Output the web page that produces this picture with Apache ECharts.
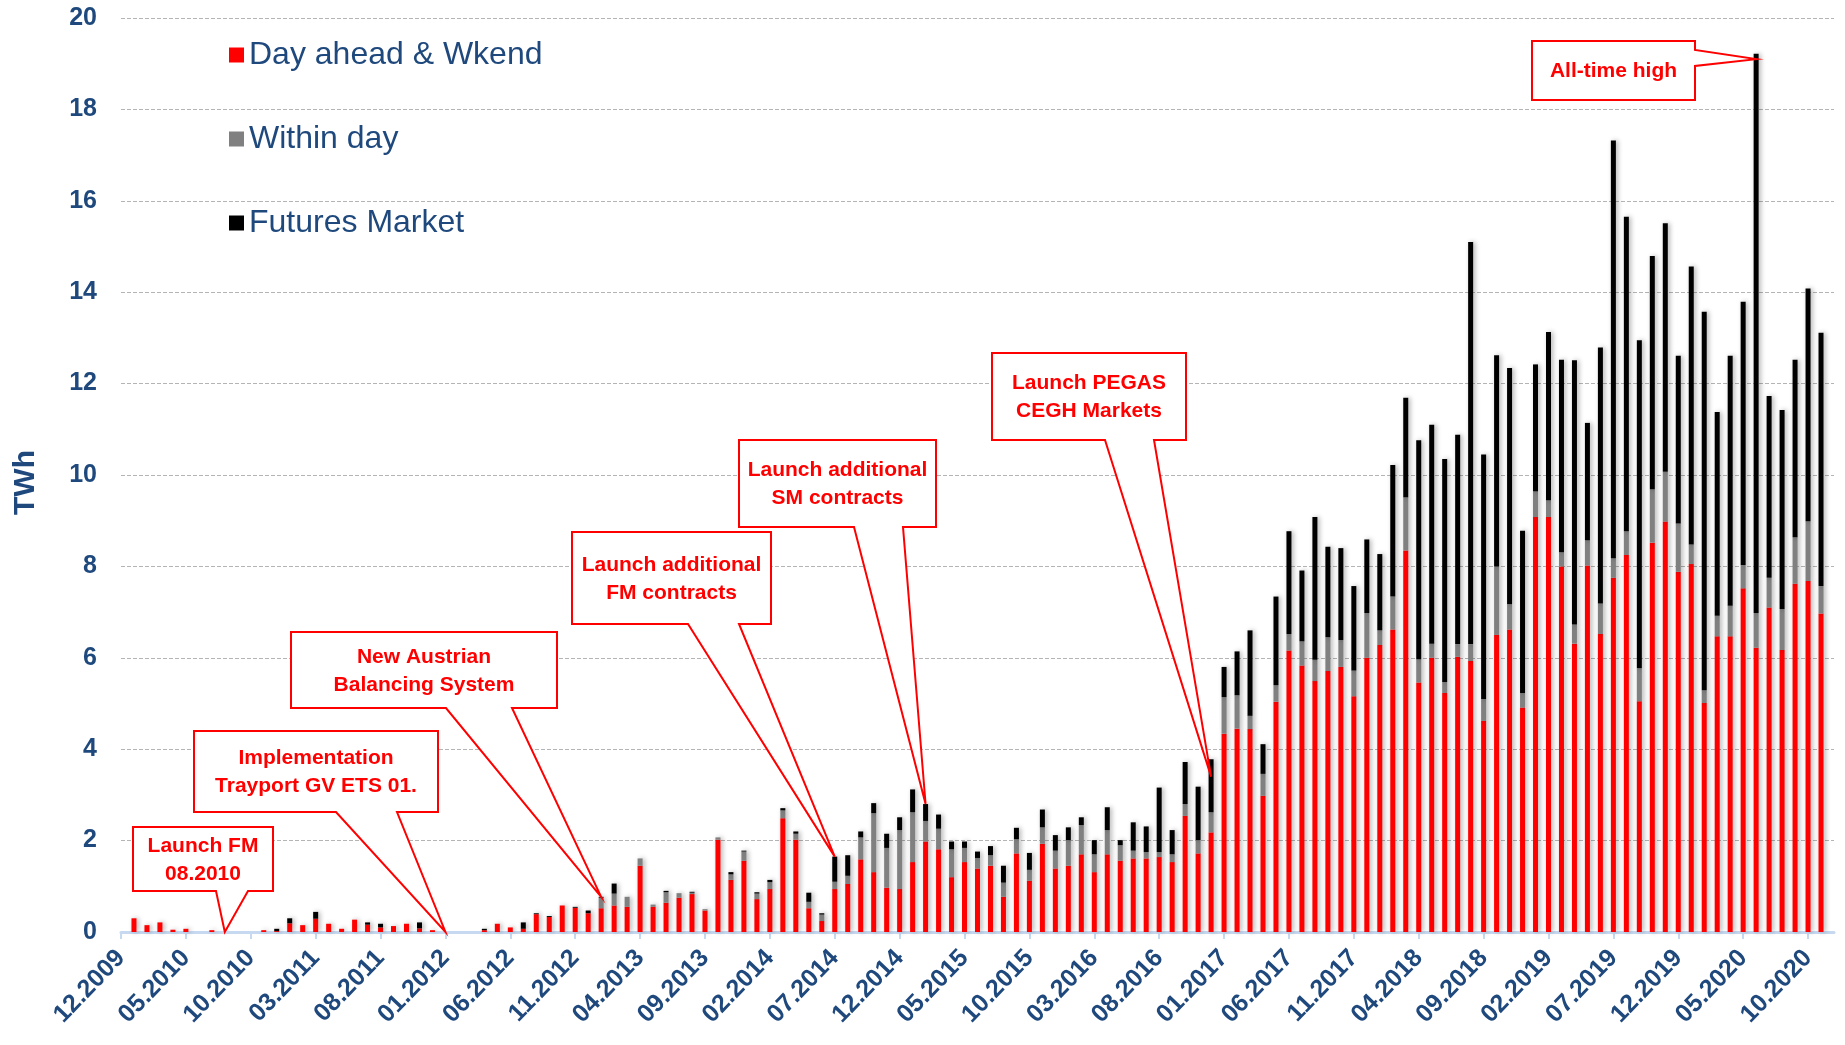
<!DOCTYPE html>
<html>
<head>
<meta charset="utf-8">
<script src="https://cdn.jsdelivr.net/npm/echarts@6/dist/echarts.min.js"></script>
<style>
  html, body { margin: 0; padding: 0; background: #fff; }
  #chart { width: 1845px; height: 1045px; }
</style>
</head>
<body>
<div id="chart"></div>
<script>
// months 12.2009 .. 12.2020
const startYear = 2009, startMonth = 12, monthCount = 133;
const months = [];
for (let i = 0; i < monthCount; i++) {
  const m = (startMonth - 1 + i) % 12 + 1;
  const y = startYear + Math.floor((startMonth - 1 + i) / 12);
  months.push((m < 10 ? '0' + m : '' + m) + '.' + y);
}

const yTicks = [0, 2, 4, 6, 8, 10, 12, 14, 16, 18, 20];

// TWh per month
const dayAhead = [
  0, 0.30, 0.15, 0.21, 0.05, 0.07, 0, 0.04, 0, 0,
  0, 0.04, 0.02, 0.19, 0.15, 0.29, 0.18, 0.07, 0.27, 0.16,
  0.10, 0.13, 0.18, 0.08, 0.04, 0, 0, 0, 0.04, 0.18,
  0.10, 0.07, 0.39, 0.33, 0.58, 0.53, 0.41, 0.52, 0.58, 0.55,
  1.45, 0.55, 0.64, 0.75, 0.83, 0.47, 2.02, 1.14, 1.56, 0.72,
  0.94, 2.49, 2.02, 0.52, 0.24, 0.94, 1.05, 1.59, 1.31, 0.97,
  0.94, 1.53, 1.98, 1.81, 1.20, 1.53, 1.39, 1.45, 0.77, 1.72,
  1.12, 1.93, 1.39, 1.45, 1.70, 1.31, 1.70, 1.56, 1.61, 1.61,
  1.64, 1.53, 2.54, 1.72, 2.18, 4.34, 4.45, 4.44, 2.98, 5.04,
  6.16, 5.83, 5.49, 5.71, 5.80, 5.16, 6.00, 6.28, 6.62, 8.35,
  5.46, 6.00, 5.23, 6.02, 5.93, 4.62, 6.50, 6.62, 4.91, 9.08,
  9.08, 8.00, 6.31, 8.02, 6.52, 7.75, 8.25, 5.05, 8.52, 8.98,
  7.88, 8.05, 5.01, 6.47, 6.47, 7.52, 6.22, 7.10, 6.17, 7.62,
  7.68, 6.97, 0
];
const withinDay = [
  0, 0, 0, 0, 0, 0, 0, 0, 0, 0,
  0, 0, 0, 0, 0, 0, 0, 0, 0, 0,
  0, 0, 0, 0, 0, 0, 0, 0, 0, 0,
  0, 0, 0, 0, 0, 0, 0, 0.23, 0.26, 0.22,
  0.16, 0.05, 0.23, 0.10, 0.03, 0.03, 0.05, 0.12, 0.20, 0.12,
  0.15, 0.17, 0.13, 0.14, 0.14, 0.16, 0.18, 0.48, 1.29, 0.87,
  1.29, 1.09, 0.45, 0.45, 0.61, 0.31, 0.23, 0.23, 0.31, 0.31,
  0.24, 0.36, 0.39, 0.56, 0.64, 0.39, 0.53, 0.34, 0.17, 0.14,
  0.11, 0.17, 0.26, 0.29, 0.44, 0.80, 0.73, 0.29, 0.48, 0.36,
  0.36, 0.53, 0.47, 0.74, 0.59, 0.56, 0.98, 0.32, 0.72, 1.16,
  0.51, 0.31, 0.24, 0.28, 0.37, 0.48, 1.50, 0.55, 0.32, 0.56,
  0.37, 0.31, 0.42, 0.55, 0.67, 0.43, 0.52, 0.72, 1.17, 1.09,
  1.06, 0.43, 0.28, 0.45, 0.67, 0.51, 0.76, 0.65, 0.90, 1.02,
  1.31, 0.60, 0
];
const futures = [
  0, 0, 0, 0, 0, 0, 0, 0, 0, 0,
  0, 0, 0.05, 0.11, 0, 0.15, 0, 0, 0, 0.05,
  0.08, 0, 0, 0.13, 0, 0, 0, 0, 0.03, 0,
  0, 0.14, 0.02, 0.02, 0, 0.02, 0.06, 0.02, 0.22, 0,
  0, 0, 0.03, 0, 0.02, 0, 0, 0.05, 0.02, 0.03,
  0.05, 0.05, 0.05, 0.20, 0.03, 0.55, 0.45, 0.13, 0.22, 0.31,
  0.28, 0.50, 0.37, 0.31, 0.17, 0.14, 0.14, 0.20, 0.37, 0.25,
  0.37, 0.39, 0.34, 0.28, 0.17, 0.31, 0.50, 0.11, 0.62, 0.56,
  1.41, 0.53, 0.92, 1.17, 1.16, 0.66, 0.96, 1.87, 0.65, 1.94,
  2.25, 1.55, 3.12, 1.98, 2.01, 1.85, 1.61, 1.67, 2.88, 2.18,
  4.79, 4.79, 4.88, 4.58, 8.80, 5.35, 4.62, 5.17, 3.55, 2.78,
  3.68, 4.21, 5.78, 2.57, 5.60, 9.14, 6.88, 7.18, 5.10, 5.44,
  3.67, 6.08, 8.28, 4.46, 5.47, 5.76, 12.24, 3.98, 4.35, 3.88,
  5.09, 5.54, 0
];

// callouts: text, box [x0,y0,x1,y1], tail base, target month + value
const callouts = [
  { text: 'Launch FM\n08.2010', box: [133, 827, 273, 891], side: 'bottom', base: [216, 248], month: '08.2010', value: 0 },
  { text: 'Implementation\nTrayport GV ETS 01.', box: [194, 731, 438, 812], side: 'bottom', base: [336, 397], month: '01.2012', value: 0 },
  { text: 'New Austrian\nBalancing System', box: [291, 632, 557, 708], side: 'bottom', base: [446, 512], month: '01.2013', value: 0.77 },
  { text: 'Launch additional\nFM contracts', box: [572, 532, 771, 624], side: 'bottom', base: [688, 739], month: '07.2014', value: 1.65 },
  { text: 'Launch additional\nSM contracts', box: [739, 440, 936, 527], side: 'bottom', base: [854, 903], month: '02.2015', value: 2.8 },
  { text: 'Launch PEGAS\nCEGH Markets', box: [992, 353, 1186, 440], side: 'bottom', base: [1105, 1154], month: '12.2016', value: 3.4 },
  { text: 'All-time high', box: [1532, 41, 1695, 100], side: 'right', base: [50, 66], month: '06.2020', value: 19.1 }
];

const textBlue = '#1F497D';
const fontArial = '"Liberation Sans", Arial, sans-serif';
const chart = echarts.init(document.getElementById('chart'));

const barStyle = function (color) {
  return {
    color: color,
    shadowColor: 'rgba(0, 0, 0, 0.3)',
    shadowBlur: 5,
    shadowOffsetX: 2
  };
};

const option = {
  animation: false,
  backgroundColor: '#fff',
  grid: { left: 121, right: 11, top: 18, bottom: 113 },
  legend: {
    orient: 'vertical',
    left: 224,
    top: 30,
    itemWidth: 15,
    itemHeight: 15,
    itemGap: 44,
    icon: 'rect',
    textStyle: {
      fontFamily: fontArial,
      fontSize: 32,
      color: textBlue,
      lineHeight: 40
    },
    data: ['Day ahead & Wkend', 'Within day', 'Futures Market']
  },
  xAxis: {
    type: 'category',
    data: months,
    boundaryGap: false,
    axisLine: { lineStyle: { color: '#C6D9F1', width: 3 } },
    axisTick: { interval: 4, length: 7, lineStyle: { color: '#C6D9F1', width: 2 } },
    axisLabel: {
      interval: 4,
      rotate: 46,
      margin: 22,
      fontFamily: fontArial,
      fontWeight: 'bold',
      fontSize: 25,
      color: textBlue
    },
    splitLine: { show: false }
  },
  yAxis: {
    type: 'value',
    min: yTicks[0],
    max: yTicks[yTicks.length - 1],
    interval: 2,
    name: 'TWh',
    nameLocation: 'middle',
    nameGap: 80,
    nameTextStyle: {
      fontFamily: fontArial,
      fontWeight: 'bold',
      fontSize: 30,
      color: textBlue,
      padding: [0, 15, 0, 0]
    },
    axisLine: { show: false },
    axisTick: { show: false },
    axisLabel: {
      margin: 24,
      fontFamily: fontArial,
      fontWeight: 'bold',
      fontSize: 25,
      color: textBlue
    },
    splitLine: { lineStyle: { color: '#B4B4B4', type: [4, 2], width: 1 } }
  },
  series: [
    { name: 'Day ahead & Wkend', type: 'bar', stack: 'total', barWidth: 5, data: dayAhead, itemStyle: barStyle('#FF0000') },
    { name: 'Within day', type: 'bar', stack: 'total', barWidth: 5, data: withinDay, itemStyle: barStyle('#808080') },
    { name: 'Futures Market', type: 'bar', stack: 'total', barWidth: 5, data: futures, itemStyle: barStyle('#000000') }
  ]
};
chart.setOption(option);

// draw the callout shapes, tails point at the data position
const graphics = [];
callouts.forEach(function (c) {
  const tip = chart.convertToPixel({ xAxisIndex: 0, yAxisIndex: 0 }, [c.month, c.value]);
  const [x0, y0, x1, y1] = c.box;
  let pts;
  if (c.side === 'bottom') {
    pts = [[x0, y0], [x1, y0], [x1, y1], [c.base[1], y1], tip, [c.base[0], y1], [x0, y1]];
  } else {
    pts = [[x0, y0], [x1, y0], [x1, c.base[0]], tip, [x1, c.base[1]], [x1, y1], [x0, y1]];
  }
  graphics.push({
    type: 'polygon',
    z: 100,
    shape: { points: pts },
    style: { fill: '#fff', stroke: '#FF0000', lineWidth: 2 }
  });
  graphics.push({
    type: 'text',
    z: 101,
    x: (x0 + x1) / 2,
    y: (y0 + y1) / 2 + 1,
    style: {
      text: c.text,
      fill: '#FF0000',
      font: 'bold 21px ' + fontArial,
      lineHeight: 28,
      align: 'center',
      verticalAlign: 'middle',
      textAlign: 'center',
      textVerticalAlign: 'middle'
    }
  });
});
chart.setOption({ graphic: graphics });
</script>
</body>
</html>
